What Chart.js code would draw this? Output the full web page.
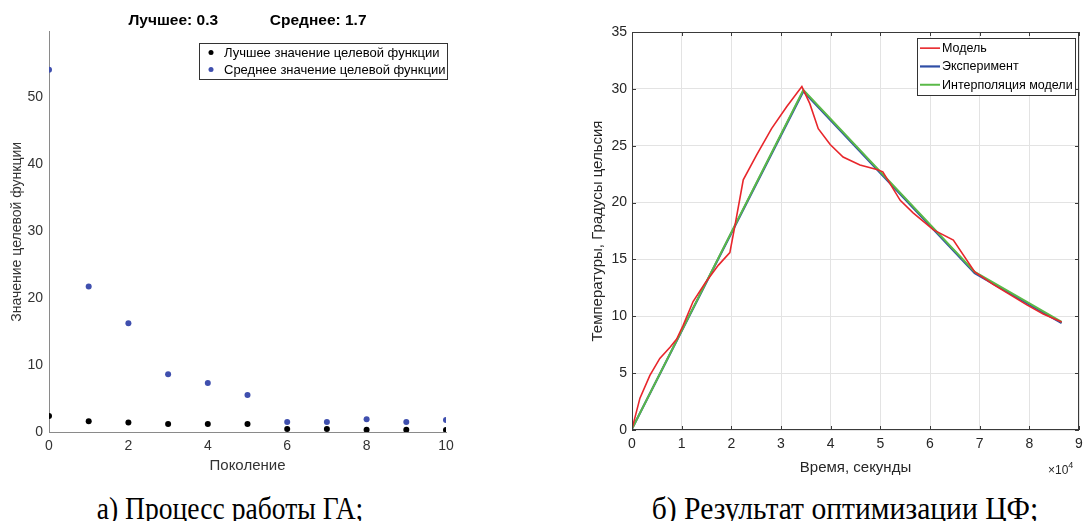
<!DOCTYPE html>
<html>
<head>
<meta charset="utf-8">
<script src="https://cdn.jsdelivr.net/npm/chart.js@4/dist/chart.umd.min.js"></script>
<style>
  body { margin: 0; background: #fff; width: 1083px; height: 521px; position: relative; overflow: hidden; }
  canvas { position: absolute; top: 0; }
  #gaChart { left: 0; }
  #tempChart { left: 580px; }
  .caption { position: absolute; top: 491px; font-family: "Liberation Serif", serif; font-size: 31px; line-height: normal; color: #000; white-space: nowrap; transform-origin: 50% 50%; }
</style>
</head>
<body>
<canvas id="gaChart" width="470" height="480"></canvas>
<canvas id="tempChart" width="503" height="480"></canvas>
<div class="caption" style="left:230px; transform: translateX(-50%) scaleX(0.89)">а) Процесс работы ГА;</div>
<div class="caption" style="left:845px; transform: translateX(-50%) scaleX(0.955)">б) Результат оптимизации ЦФ;</div>
<script>
// left plot - GA progress per generation
var generations = [0, 1, 2, 3, 4, 5, 6, 7, 8, 9, 10];
var bestValues = [2.4, 1.6, 1.4, 1.2, 1.2, 1.2, 0.45, 0.45, 0.35, 0.35, 0.3];
var meanValues = [54.0, 21.7, 16.2, 8.6, 7.3, 5.5, 1.5, 1.5, 1.9, 1.5, 1.8];
var gaTitle = "Лучшее: 0.3            Среднее: 1.7";

// right plot - temperature, time in seconds
var modelTime = [0, 1600, 3600, 5600, 7700, 9000, 10300, 12300, 14700, 17400, 19700, 20700, 22400, 25100, 28100, 31100, 34200,
                 35800, 37500, 39900, 42500, 45900, 49300, 50500, 54000, 56600, 60700, 64700, 69000, 72700, 76100, 79500, 82800, 86500];
var modelTemp = [0.1, 2.8, 4.8, 6.3, 7.3, 8.0, 9.2, 11.3, 12.9, 14.5, 15.6, 17.9, 22.0, 24.2, 26.5, 28.4, 30.2,
                 28.7, 26.5, 25.1, 24.0, 23.3, 22.9, 22.7, 20.2, 19.1, 17.6, 16.7, 13.9, 12.8, 11.9, 11.0, 10.2, 9.5];
var expTime = [0, 34500, 69000, 86500];
var expTemp = [0.1, 29.8, 13.8, 9.4];
var interpTime = [0, 34500, 69000, 86500];
var interpTemp = [0.1, 29.9, 13.9, 9.5];

var FONT = "'Liberation Sans', Arial, sans-serif";

function toPoints(xs, ys) {
  return xs.map(function (x, i) { return { x: x, y: ys[i] }; });
}

// legend drawn inside the plot area, like in matlab
var boxLegend = {
  id: 'boxLegend',
  afterDraw: function (chart, args, opts) {
    var ctx = chart.ctx, a = chart.chartArea, sets = chart.data.datasets;
    ctx.save();
    ctx.font = opts.font;
    var w = 0;
    sets.forEach(function (d) { w = Math.max(w, ctx.measureText(d.label).width); });
    var boxW = Math.round(opts.textX + w + opts.padRight);
    var boxH = Math.round(sets.length * opts.rowHeight + opts.padY * 2);
    var x = Math.round(a.right + opts.right - boxW), y = Math.round(a.top + opts.top);
    ctx.fillStyle = '#fff';
    ctx.fillRect(x, y, boxW, boxH);
    ctx.strokeStyle = opts.borderColor;
    ctx.lineWidth = 1;
    ctx.strokeRect(x + 0.5, y + 0.5, boxW, boxH);
    sets.forEach(function (d, i) {
      var cy = y + opts.padY + opts.rowHeight * (i + 0.5);
      if (d.showLine === false) {
        ctx.fillStyle = d.pointBackgroundColor;
        ctx.beginPath();
        ctx.arc(x + opts.markerX, cy, 2.5, 0, Math.PI * 2);
        ctx.fill();
      } else {
        ctx.strokeStyle = d.borderColor;
        ctx.lineWidth = d.borderWidth;
        ctx.beginPath();
        ctx.moveTo(x + opts.lineFrom, cy);
        ctx.lineTo(x + opts.lineTo, cy);
        ctx.stroke();
      }
      ctx.fillStyle = '#000';
      ctx.textBaseline = 'middle';
      ctx.fillText(d.label, x + opts.textX, cy + 0.5);
    });
    ctx.restore();
  }
};

// box around the axes with small inward ticks
var frameBox = {
  id: 'frameBox',
  afterDatasetsDraw: function (chart, args, opts) {
    if (!opts.display) return;
    var ctx = chart.ctx, a = chart.chartArea, sx = chart.scales.x, sy = chart.scales.y;
    var len = opts.tickLength;
    ctx.save();
    ctx.strokeStyle = opts.color;
    ctx.lineWidth = 1;
    ctx.beginPath();
    sx.ticks.forEach(function (t) {
      var px = Math.round(sx.getPixelForValue(t.value)) + 0.5;
      ctx.moveTo(px, a.bottom); ctx.lineTo(px, a.bottom - len);
      ctx.moveTo(px, a.top); ctx.lineTo(px, a.top + len);
    });
    sy.ticks.forEach(function (t) {
      var py = Math.round(sy.getPixelForValue(t.value)) + 0.5;
      ctx.moveTo(a.left, py); ctx.lineTo(a.left + len, py);
      ctx.moveTo(a.right, py); ctx.lineTo(a.right - len, py);
    });
    ctx.stroke();
    ctx.strokeRect(Math.round(a.left) + 0.5, Math.round(a.top) + 0.5, Math.round(a.width) - 1, Math.round(a.height) - 1);
    ctx.restore();
  }
};

// the x10^4 multiplier under the right end of the time axis
var expLabel = {
  id: 'expLabel',
  afterDraw: function (chart, args, opts) {
    if (!opts.display) return;
    var ctx = chart.ctx, a = chart.chartArea;
    ctx.save();
    ctx.fillStyle = '#262626';
    ctx.textBaseline = 'alphabetic';
    ctx.textAlign = 'left';
    ctx.font = '12px ' + FONT;
    var x = a.right - 31, y = a.bottom + 44;
    ctx.fillText('×10', x, y);
    var w = ctx.measureText('×10').width;
    ctx.font = '9px ' + FONT;
    ctx.fillText('4', x + w, y - 6);
    ctx.restore();
  }
};

Chart.register(boxLegend, frameBox, expLabel);

var gaChart = new Chart(document.getElementById('gaChart'), {
  type: 'scatter',
  data: {
    datasets: [{
      label: 'Лучшее значение целевой функции',
      data: toPoints(generations, bestValues),
      showLine: false,
      pointRadius: 3,
      pointBorderWidth: 0,
      pointBackgroundColor: '#000000',
      order: 0
    }, {
      label: 'Среднее значение целевой функции',
      data: toPoints(generations, meanValues),
      showLine: false,
      pointRadius: 3,
      pointBorderWidth: 0,
      pointBackgroundColor: '#3f4fae',
      order: 1
    }]
  },
  options: {
    responsive: false,
    animation: false,
    layout: { padding: { left: 0, right: 24, top: 0, bottom: 0 } },
    plugins: {
      legend: { display: false },
      tooltip: { enabled: false },
      title: {
        display: true,
        fullSize: false,
        text: gaTitle,
        color: '#000',
        font: { family: FONT, size: 15.5, weight: 'bold' },
        padding: { top: 11, bottom: 2 }
      },
      boxLegend: {
        font: '13px ' + FONT, right: 1, top: 11, rowHeight: 17, padY: 1,
        markerX: 12, textX: 25, padRight: 2, borderColor: '#333'
      },
      frameBox: { display: false },
      expLabel: { display: false }
    },
    scales: {
      x: {
        type: 'linear', min: 0, max: 10,
        grid: { display: false, drawTicks: false },
        border: { display: true, color: '#8a8a8a', width: 1 },
        ticks: { stepSize: 2, padding: 6, color: '#333', font: { family: FONT, size: 14 } },
        title: { display: true, text: 'Поколение', color: '#333', font: { family: FONT, size: 15 }, padding: { top: 5, bottom: 5 } },
        afterFit: function (s) { s.height = 48; s.paddingLeft = 0; s.paddingRight = 0; }
      },
      y: {
        type: 'linear', min: 0, max: 59.7,
        grid: { display: false, drawTicks: false },
        border: { display: true, color: '#8a8a8a', width: 1 },
        ticks: { stepSize: 10, includeBounds: false, padding: 6, color: '#333', font: { family: FONT, size: 14 } },
        title: { display: true, text: 'Значение целевой функции', color: '#333', font: { family: FONT, size: 14 }, padding: { top: 9, bottom: 4 } },
        afterFit: function (s) { s.width = 49; }
      }
    }
  }
});

var tempChart = new Chart(document.getElementById('tempChart'), {
  type: 'scatter',
  data: {
    datasets: [{
      label: 'Модель',
      data: toPoints(modelTime, modelTemp),
      showLine: true,
      borderColor: '#e8262b',
      borderWidth: 1.6,
      pointRadius: 0,
      order: 0
    }, {
      label: 'Эксперимент',
      data: toPoints(expTime, expTemp),
      showLine: true,
      borderColor: '#2f4ea6',
      borderWidth: 2.2,
      pointRadius: 0,
      order: 2
    }, {
      label: 'Интерполяция модели',
      data: toPoints(interpTime, interpTemp),
      showLine: true,
      borderColor: '#5ab948',
      borderWidth: 2,
      pointRadius: 0,
      order: 1
    }]
  },
  options: {
    responsive: false,
    animation: false,
    layout: { padding: { left: 0, right: 4, top: 32, bottom: 0 } },
    plugins: {
      legend: { display: false },
      tooltip: { enabled: false },
      boxLegend: {
        font: '12.5px ' + FONT, right: -4, top: 6, rowHeight: 18.3, padY: 1,
        lineFrom: 3, lineTo: 23, textX: 25, padRight: 2, borderColor: '#333'
      },
      frameBox: { display: true, color: '#3a3a3a', tickLength: 4 },
      expLabel: { display: true }
    },
    scales: {
      x: {
        type: 'linear', min: 0, max: 90000,
        grid: { display: true, color: '#e3e3e3', drawTicks: false },
        border: { display: false },
        ticks: { stepSize: 10000, padding: 6, color: '#262626', font: { family: FONT, size: 14 },
                 callback: function (v) { return v / 10000; } },
        title: { display: true, text: 'Время, секунды', color: '#262626', font: { family: FONT, size: 15 }, padding: { top: 3, bottom: 3 } },
        afterFit: function (s) { s.height = 50; s.paddingLeft = 0; s.paddingRight = 0; }
      },
      y: {
        type: 'linear', min: 0, max: 35,
        grid: { display: true, color: '#e3e3e3', drawTicks: false },
        border: { display: false },
        ticks: { stepSize: 5, padding: 5, color: '#262626', font: { family: FONT, size: 14 } },
        title: { display: true, text: 'Температуры, Градусы цельсия', color: '#262626', font: { family: FONT, size: 15 }, padding: { top: 9, bottom: 4 } },
        afterFit: function (s) { s.width = 52; }
      }
    }
  }
});
</script>
</body>
</html>
